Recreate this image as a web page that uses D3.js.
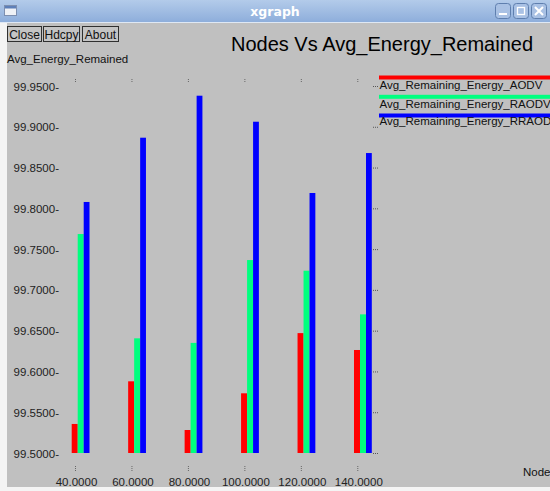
<!DOCTYPE html>
<html>
<head>
<meta charset="utf-8">
<script src="https://cdn.jsdelivr.net/npm/d3@7"></script>
<style>
html,body{margin:0;padding:0;background:#ffffff;}
svg{display:block;font-family:"Liberation Sans",Arial,sans-serif;}
</style>
</head>
<body>
<svg id="chart" width="550" height="491"></svg>
<script>
const nodes = [40, 60, 80, 100, 120, 140];
const aodv = [99.5356, 99.5879, 99.5282, 99.5732, 99.6470, 99.6263];
const raodv = [99.7685, 99.6406, 99.6350, 99.7366, 99.7235, 99.6700];
const rraodv = [99.8078, 99.8866, 99.9381, 99.9062, 99.8188, 99.8678];
const seriesNames = ["Avg_Remaining_Energy_AODV", "Avg_Remaining_Energy_RAODV", "Avg_Remaining_Energy_RRAODV"];
const seriesColors = ["#ff0000", "#00ff7f", "#0000ff"];
const yTicks = [99.50, 99.55, 99.60, 99.65, 99.70, 99.75, 99.80, 99.85, 99.90, 99.95];
const title = "Nodes Vs Avg_Energy_Remained";
const yLabel = "Avg_Energy_Remained";
const xLabel = "Nodes";
const buttons = ["Close", "Hdcpy", "About"];

const svg = d3.select("#chart");
const W = 550, H = 491;

// window frame
svg.append("rect").attr("x",0).attr("y",0).attr("width",W).attr("height",H).attr("fill","#f4f4f4");
svg.append("rect").attr("x",7).attr("y",23).attr("width",W-7).attr("height",464).attr("fill","#c0c0c0");

// title bar
const defs = svg.append("defs");
const grad = defs.append("linearGradient").attr("id","tb").attr("x1",0).attr("y1",0).attr("x2",0).attr("y2",1);
grad.append("stop").attr("offset","0%").attr("stop-color","#b3cbea");
grad.append("stop").attr("offset","100%").attr("stop-color","#8eaedb");
svg.append("rect").attr("x",0).attr("y",0).attr("width",W).attr("height",22).attr("fill","url(#tb)");
svg.append("line").attr("x1",0).attr("x2",W).attr("y1",22.5).attr("y2",22.5).attr("stroke","#dfe8f4");
svg.append("text").attr("x",275).attr("y",15.5).attr("text-anchor","middle")
  .attr("fill","#ffffff").attr("font-weight","bold").attr("font-size",12.5).attr("font-family","DejaVu Sans, sans-serif").text("xgraph");
// window icon
svg.append("rect").attr("x",4.5).attr("y",5.5).attr("width",12).attr("height",10).attr("fill","#eef1f6").attr("stroke","#7d8fb0");
svg.append("rect").attr("x",5).attr("y",6).attr("width",11).attr("height",2.5).attr("fill","#5d7fb8");
// window buttons
[495, 513, 531].forEach((bx,i)=>{
  svg.append("rect").attr("x",bx+0.5).attr("y",3.5).attr("width",15).attr("height",15).attr("rx",3)
    .attr("fill","#a9c1e4").attr("stroke","#5f7fae");
  if(i===0) svg.append("rect").attr("x",bx+4).attr("y",13).attr("width",8).attr("height",2).attr("fill","#ffffff");
  if(i===1) svg.append("rect").attr("x",bx+4.5).attr("y",7.5).attr("width",7).attr("height",7).attr("fill","none").attr("stroke","#ffffff").attr("stroke-width",1.3);
  if(i===2){ svg.append("path").attr("d",`M${bx+4},7 L${bx+12},15 M${bx+12},7 L${bx+4},15`).attr("stroke","#ffffff").attr("stroke-width",2); }
});

// buttons
const bxs = [[7.5,34],[43.5,36],[82.5,36]];
buttons.forEach((b,i)=>{
  svg.append("rect").attr("x",bxs[i][0]).attr("y",26.5).attr("width",bxs[i][1]).attr("height",15)
    .attr("fill","#c4c4c4").attr("stroke","#303030");
  svg.append("text").attr("x",bxs[i][0]+bxs[i][1]/2).attr("y",38.5).attr("text-anchor","middle")
    .attr("font-size",12).attr("fill","#111").text(b);
});

// title
svg.append("text").attr("x",231).attr("y",51).attr("font-size",20).attr("fill","#000").text(title);
// y label
svg.append("text").attr("x",7).attr("y",63).attr("font-size",11.5).attr("fill","#111").text(yLabel);

// scales
const x = d3.scaleLinear().domain([40,140]).range([75,357.3]);
const y = d3.scaleLinear().domain([99.5,99.95]).range([453,86]);

// y axis labels (left)
const yAxis = d3.axisLeft(y).tickValues(yTicks).tickSize(0).tickPadding(0)
  .tickFormat(d=>d3.format(".4f")(d)+"-");
const gy = svg.append("g").attr("transform","translate(59,0)").call(yAxis);
gy.select(".domain").remove();
gy.selectAll("text").attr("font-size",11.5).attr("fill","#222").attr("font-family","Liberation Sans, Arial, sans-serif").attr("dy","0.35em");

// right ticks
const gr = svg.append("g").attr("transform","translate(373,0)")
  .call(d3.axisRight(y).tickValues(yTicks).tickSize(5).tickFormat(""));
gr.select(".domain").remove();
gr.selectAll("line").attr("stroke","#555").attr("stroke-dasharray","1,1");

// x axis labels
const xAxis = d3.axisBottom(x).tickValues(nodes).tickSize(0).tickPadding(0)
  .tickFormat(d=>d3.format(".4f")(d));
const gx = svg.append("g").attr("transform","translate(1,478)").call(xAxis);
gx.select(".domain").remove();
gx.selectAll("text").attr("font-size",11.5).attr("fill","#222").attr("font-family","Liberation Sans, Arial, sans-serif").attr("dy","0.71em");

// top and bottom tick marks
const gt = svg.append("g").attr("transform","translate(0,79)")
  .call(d3.axisBottom(x).tickValues(nodes).tickSize(4).tickFormat(""));
gt.select(".domain").remove();
gt.selectAll("line").attr("stroke","#666").attr("stroke-dasharray","1,1");
const gb = svg.append("g").attr("transform","translate(0,466)")
  .call(d3.axisBottom(x).tickValues(nodes).tickSize(5).tickFormat(""));
gb.select(".domain").remove();
gb.selectAll("line").attr("stroke","#666").attr("stroke-dasharray","1,1");

// x label (cut by the window edge, as in the reference)
svg.append("text").attr("x",523).attr("y",476).attr("font-size",11.5).attr("fill","#111").text(xLabel);

// bars
const allSeries = [aodv, raodv, rraodv];
const offsets = [-3.3, 2.7, 8.7];
const widths = [6, 6, 5.8];
allSeries.forEach((vals,si)=>{
  svg.append("g").selectAll("rect").data(nodes).join("rect")
    .attr("x",(d)=>x(d)+offsets[si])
    .attr("width",widths[si])
    .attr("y",(d,i)=>y(vals[i]))
    .attr("height",(d,i)=>y(99.5)-y(vals[i]))
    .attr("fill",seriesColors[si]);
});

// legend
const legY = [77.5, 96.8, 115.5];
const legT = [89, 107.5, 125];
seriesNames.forEach((n,i)=>{
  svg.append("rect").attr("x",379).attr("y",legY[i]-2).attr("width",W-379).attr("height",4).attr("fill",seriesColors[i]);
  svg.append("text").attr("x",379.5).attr("y",legT[i]).attr("font-size",11.5).attr("fill","#111").text(n);
});
</script>
</body>
</html>
